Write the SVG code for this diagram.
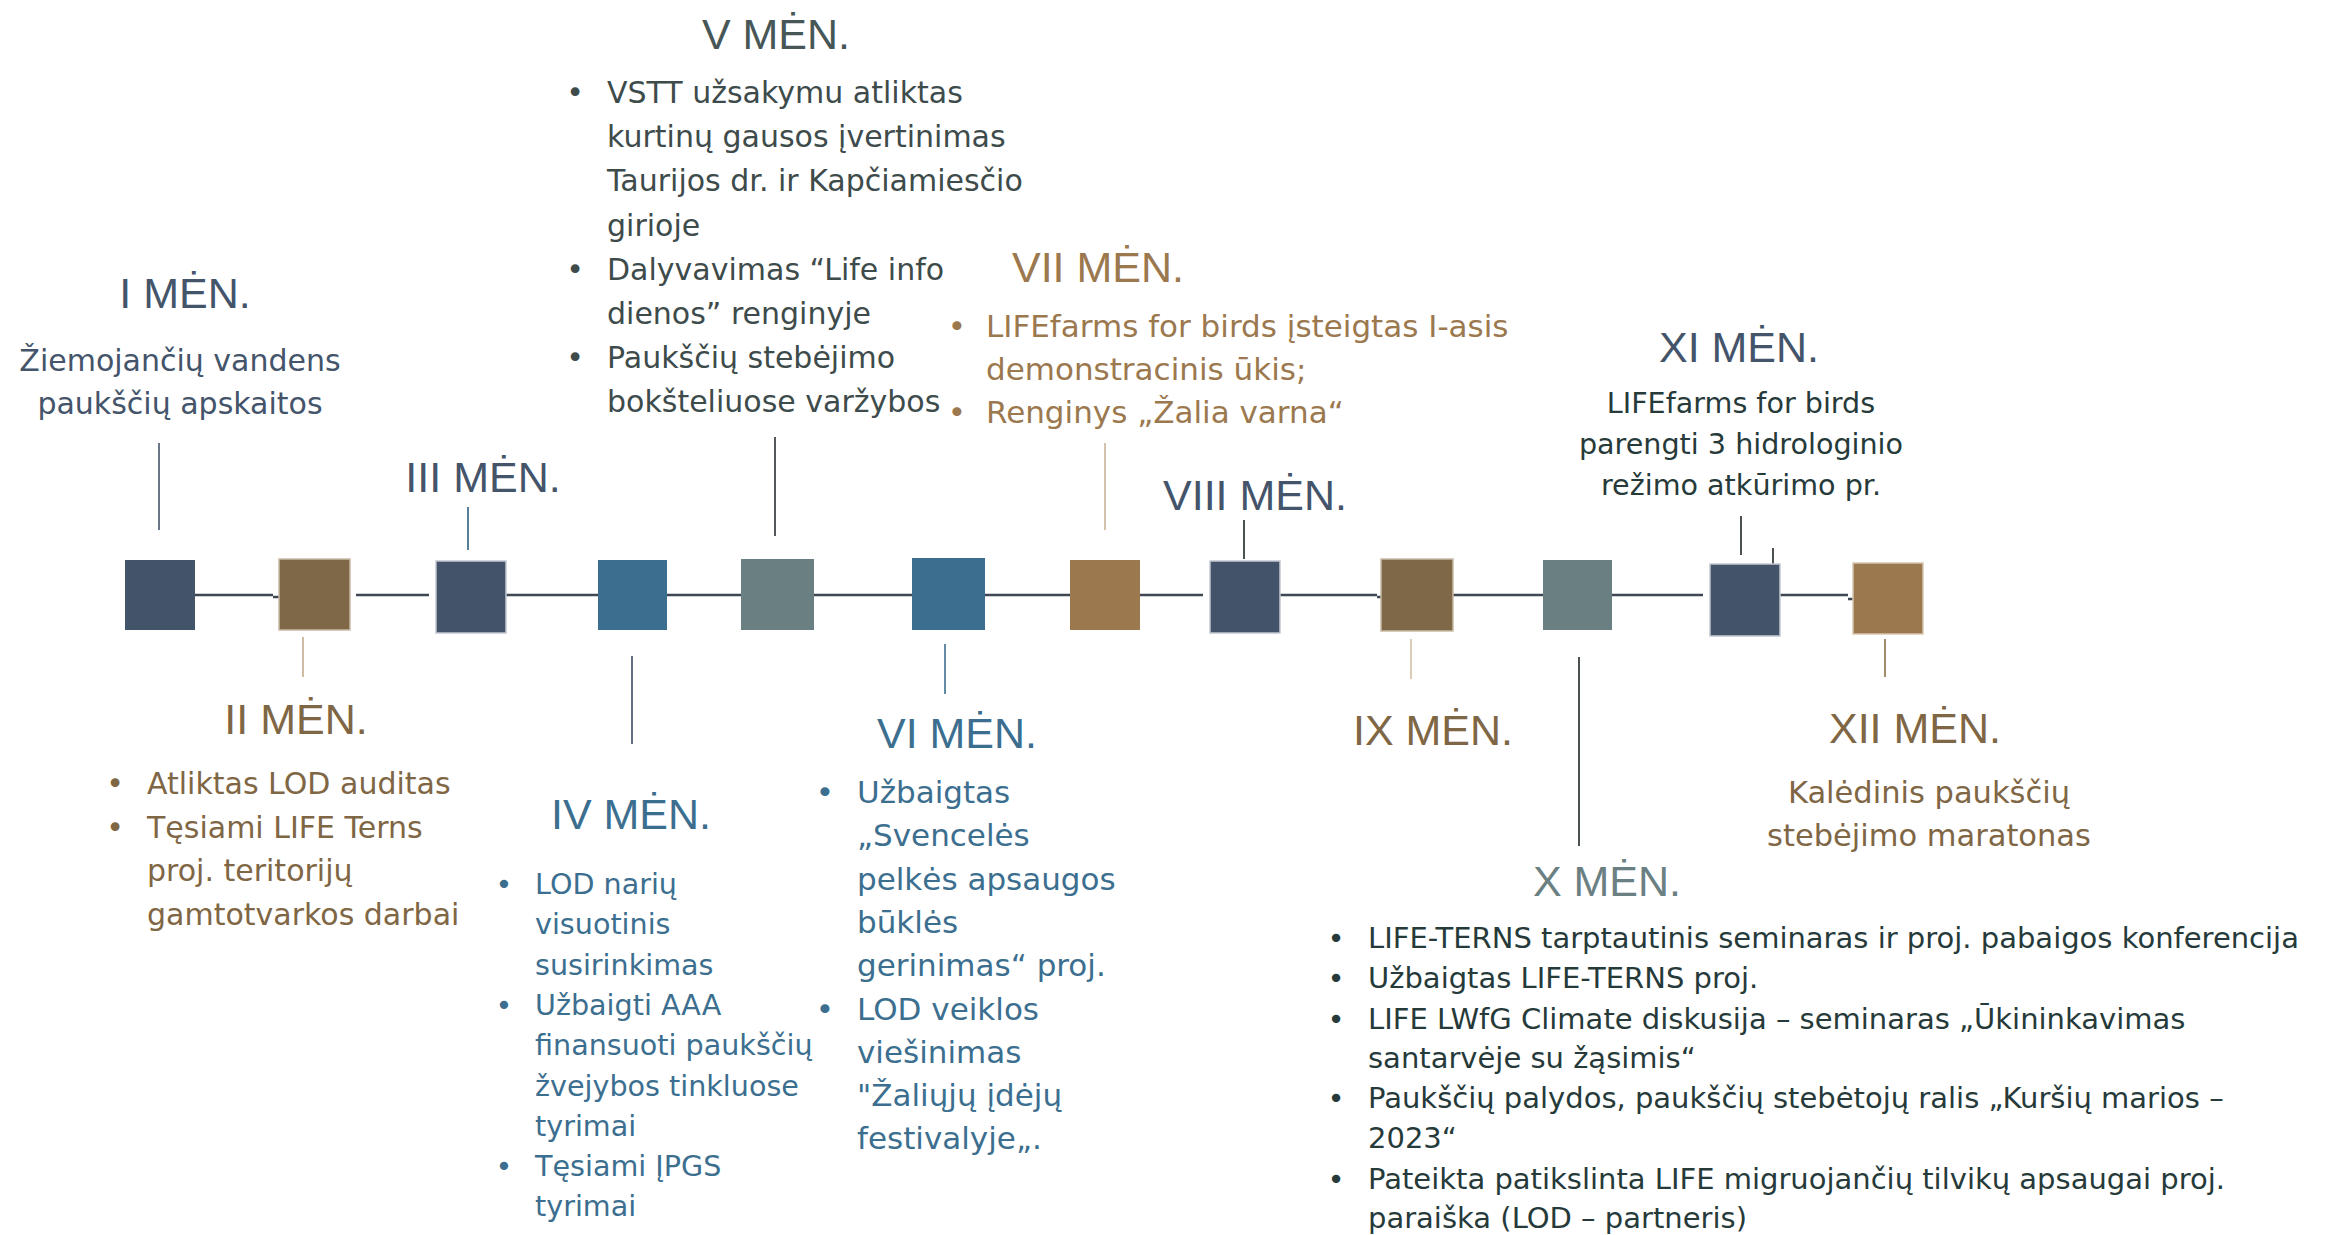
<svg xmlns="http://www.w3.org/2000/svg" width="2328" height="1235" viewBox="0 0 2328 1235">
<style>
.t{font-family:"Liberation Sans",Arial,sans-serif;font-size:43px;text-anchor:middle}
.b{font-family:"DejaVu Sans",Verdana,sans-serif}
.c{text-anchor:middle}
.slate{fill:#44546a}.brown{fill:#7f6644}.blue{fill:#3c6f8f}.grey{fill:#6b8083}.tan{fill:#9b784e}.dk{fill:#3e4b4b}.teal{fill:#263a3a}
.sq{stroke-width:1.5}
.tl{stroke:#3f4753;stroke-width:2.5;fill:none}
.v{stroke-width:1.6;fill:none}
</style>
<rect width="2328" height="1235" fill="#ffffff"/>
<g id="connectors">
<path class="tl" d="M194 595H273M273 597H279M356 595H429M506 595H598M667 595H741M814 595H912M985 595H1070M1140 595H1203M1280 595H1377M1377 597H1381M1453 595H1543M1612 595H1703M1780 595H1848M1848 599H1853"/>
<line class="v" x1="159" y1="443" x2="159" y2="530" stroke="#44546a"/>
<line class="v" x1="303" y1="637" x2="303" y2="677" stroke="#c4ab8c"/>
<line class="v" x1="468" y1="507" x2="468" y2="550" stroke="#2f5f80"/>
<line class="v" x1="632" y1="656" x2="632" y2="744" stroke="#3a4a60"/>
<line class="v" x1="775" y1="437" x2="775" y2="536" stroke="#2a2f33"/>
<line class="v" x1="945" y1="644" x2="945" y2="694" stroke="#3c6f8f"/>
<line class="v" x1="1105" y1="443" x2="1105" y2="530" stroke="#c9b497"/>
<line class="v" x1="1244" y1="520" x2="1244" y2="559" stroke="#1e2626"/>
<line class="v" x1="1411" y1="639" x2="1411" y2="679" stroke="#d2bfa5"/>
<line class="v" x1="1579" y1="657" x2="1579" y2="846" stroke="#1e2626"/>
<line class="v" x1="1741" y1="516" x2="1741" y2="555" stroke="#1e2626"/>
<line class="v" x1="1773" y1="548" x2="1773" y2="587" stroke="#1e2626"/>
<line class="v" x1="1885" y1="639" x2="1885" y2="677" stroke="#8a6d45"/>
</g>
<g id="m1">
<rect class="sq" x="125" y="560" width="70" height="70" fill="#435369"/>
<text class="t slate" x="185" y="308">I MĖN.</text>
<text class="b c slate" font-size="30" x="180" y="371">Žiemojančių vandens</text>
<text class="b c slate" font-size="30" x="180" y="414">paukščių apskaitos</text>
</g>
<g id="m2">
<rect class="sq" x="279" y="559" width="71" height="71" fill="#7f6847" stroke="#c9bba6"/>
<text class="t brown" x="296" y="734">II MĖN.</text>
<g class="b brown" font-size="30">
<text class="c" x="115" y="794">•</text><text x="147" y="794">Atliktas LOD auditas</text>
<text class="c" x="115" y="838">•</text><text x="147" y="838">Tęsiami LIFE Terns</text>
<text x="147" y="881">proj. teritorijų</text>
<text x="147" y="925">gamtotvarkos darbai</text>
</g>
</g>
<g id="m3">
<rect class="sq" x="436" y="561" width="70" height="72" fill="#435369" stroke="#c3c8d0"/>
<text class="t slate" x="483" y="492">III MĖN.</text>
</g>
<g id="m4">
<rect class="sq" x="598" y="560" width="69" height="70" fill="#3c6f8f"/>
<text class="t blue" x="631" y="829">IV MĖN.</text>
<g class="b blue" font-size="28.6">
<text class="c" x="504" y="894">•</text><text x="535" y="894">LOD narių</text>
<text x="535" y="934">visuotinis</text>
<text x="535" y="975">susirinkimas</text>
<text class="c" x="504" y="1015">•</text><text x="535" y="1015">Užbaigti AAA</text>
<text x="535" y="1055">finansuoti paukščių</text>
<text x="535" y="1096">žvejybos tinkluose</text>
<text x="535" y="1136">tyrimai</text>
<text class="c" x="504" y="1176">•</text><text x="535" y="1176">Tęsiami ĮPGS</text>
<text x="535" y="1216">tyrimai</text>
</g>
</g>
<g id="m5">
<rect class="sq" x="741" y="559" width="73" height="71" fill="#697f82"/>
<text class="t" fill="#475656" x="776" y="49">V MĖN.</text>
<g class="b dk" font-size="30">
<text class="c" x="575" y="103">•</text><text x="607" y="103">VSTT užsakymu atliktas</text>
<text x="607" y="147">kurtinų gausos įvertinimas</text>
<text x="607" y="191">Taurijos dr. ir Kapčiamiesčio</text>
<text x="607" y="236">girioje</text>
<text class="c" x="575" y="280">•</text><text x="607" y="280">Dalyvavimas “Life info</text>
<text x="607" y="324">dienos” renginyje</text>
<text class="c" x="575" y="368">•</text><text x="607" y="368">Paukščių stebėjimo</text>
<text x="607" y="412">bokšteliuose varžybos</text>
</g>
</g>
<g id="m6">
<rect class="sq" x="912" y="558" width="73" height="72" fill="#3c6f8f"/>
<text class="t blue" x="957" y="748">VI MĖN.</text>
<g class="b blue" font-size="31">
<text class="c" x="825" y="803">•</text><text x="857" y="803">Užbaigtas</text>
<text x="857" y="846">„Svencelės</text>
<text x="857" y="890">pelkės apsaugos</text>
<text x="857" y="933">būklės</text>
<text x="857" y="976">gerinimas“ proj.</text>
<text class="c" x="825" y="1020">•</text><text x="857" y="1020">LOD veiklos</text>
<text x="857" y="1063">viešinimas</text>
<text x="857" y="1106">"Žaliųjų įdėjų</text>
<text x="857" y="1149">festivalyje„.</text>
</g>
</g>
<g id="m7">
<rect class="sq" x="1070" y="560" width="70" height="70" fill="#9b784e"/>
<text class="t tan" x="1098" y="282">VII MĖN.</text>
<g class="b tan" font-size="31">
<text class="c" x="957" y="337">•</text><text x="986" y="337">LIFEfarms for birds įsteigtas I-asis</text>
<text x="986" y="380">demonstracinis ūkis;</text>
<text class="c" x="957" y="423">•</text><text x="986" y="423">Renginys „Žalia varna“</text>
</g>
</g>
<g id="m8">
<rect class="sq" x="1210" y="561" width="70" height="72" fill="#435369" stroke="#c3c8d0"/>
<text class="t slate" x="1255" y="510">VIII MĖN.</text>
</g>
<g id="m9">
<rect class="sq" x="1381" y="559" width="72" height="72" fill="#7f6847" stroke="#c9bba6"/>
<text class="t brown" x="1433" y="745">IX MĖN.</text>
</g>
<g id="m10">
<rect class="sq" x="1543" y="560" width="69" height="70" fill="#697f82"/>
<text class="t grey" x="1607" y="896">X MĖN.</text>
<g class="b teal" font-size="29">
<text class="c" x="1336" y="948">•</text><text x="1368" y="948">LIFE-TERNS tarptautinis seminaras ir proj. pabaigos konferencija</text>
<text class="c" x="1336" y="988">•</text><text x="1368" y="988">Užbaigtas LIFE-TERNS proj.</text>
<text class="c" x="1336" y="1029">•</text><text x="1368" y="1029">LIFE LWfG Climate diskusija – seminaras „Ūkininkavimas</text>
<text x="1368" y="1068">santarvėje su žąsimis“</text>
<text class="c" x="1336" y="1108">•</text><text x="1368" y="1108">Paukščių palydos, paukščių stebėtojų ralis „Kuršių marios –</text>
<text x="1368" y="1148">2023“</text>
<text class="c" x="1336" y="1189">•</text><text x="1368" y="1189">Pateikta patikslinta LIFE migruojančių tilvikų apsaugai proj.</text>
<text x="1368" y="1228">paraiška (LOD – partneris)</text>
</g>
</g>
<g id="m11">
<rect class="sq" x="1710" y="564" width="70" height="72" fill="#435369" stroke="#c3c8d0"/>
<text class="t slate" x="1739" y="362">XI MĖN.</text>
<g class="b c teal" font-size="28.6">
<text x="1741" y="413">LIFEfarms for birds</text>
<text x="1741" y="454">parengti 3 hidrologinio</text>
<text x="1741" y="495">režimo atkūrimo pr.</text>
</g>
</g>
<g id="m12">
<rect class="sq" x="1853" y="563" width="70" height="71" fill="#9b784e" stroke="#d6c6b0"/>
<text class="t brown" x="1915" y="743">XII MĖN.</text>
<g class="b c brown" font-size="30.5">
<text x="1929" y="803">Kalėdinis paukščių</text>
<text x="1929" y="846">stebėjimo maratonas</text>
</g>
</g>
</svg>
